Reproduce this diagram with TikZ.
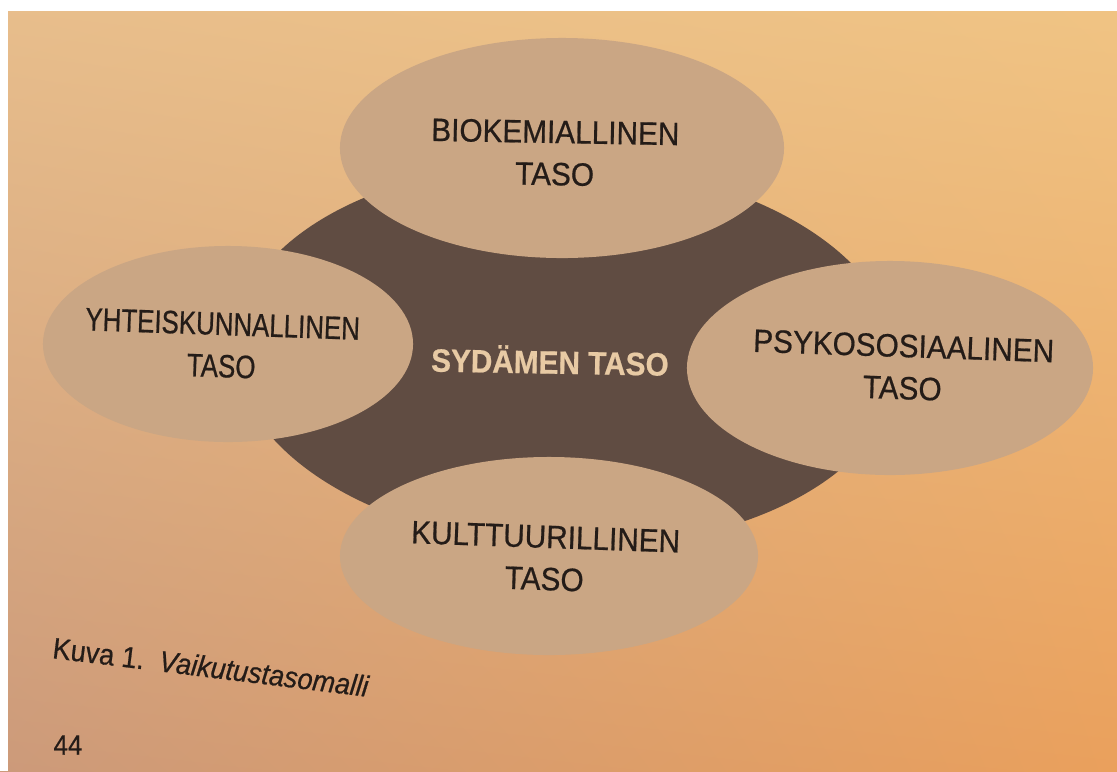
\documentclass[tikz,border=0pt]{standalone}
\usepackage{fontspec}
\setmainfont{Liberation Sans}[FakeStretch=0.92, FakeBold=0.6]
\newfontfamily\kapeafont{Liberation Sans}[FakeStretch=0.80, FakeBold=0.6]
\usepackage{tikz}
\usetikzlibrary{shapes, shadings, positioning}
\usepackage{xcolor}
\definecolor{pagetl}{RGB}{232,190,140}
\definecolor{pagetr}{RGB}{240,196,132}
\definecolor{pagebl}{RGB}{204,154,122}
\definecolor{pagebr}{RGB}{234,160,92}
\definecolor{tasofill}{RGB}{202,166,132}
\definecolor{sydanfill}{RGB}{96,76,66}
\definecolor{tasoink}{RGB}{36,28,24}
\definecolor{sydanink}{RGB}{232,202,164}

\begin{document}
\begin{tikzpicture}[x=0.025cm, y=-0.025cm,
  every node/.style={font=\fontsize{23}{30}\selectfont, text=tasoink},
  taso/.style={ellipse, fill=tasofill, inner sep=0pt},
  tasotext/.style={align=center, rotate=-2}]

% Page (photo of the book page)
\useasboundingbox (0,0) rectangle (1117,771);
\shade[upper left=pagetl, upper right=pagetr, lower left=pagebl,
       lower right=pagebr] (0,0) rectangle (1117,771);
\fill[white] (0,0) rectangle (1117,11);
\fill[white] (0,0) rectangle (8,771);

% Heart level in the middle
\node[ellipse, fill=sydanfill, inner sep=0pt, minimum width=16.6cm,
      minimum height=9.6cm, rotate=-2] (sydan) at (566,355) {};

% The four levels round it
\node[taso, minimum width=11.1cm, minimum height=5.5cm] (bio) at (562,148) {};
\node[taso, minimum width=9.25cm, minimum height=4.9cm] (yht) at (228,344) {};
\node[taso, minimum width=10.15cm, minimum height=5.35cm] (psy) at (890,368) {};
\node[taso, minimum width=10.45cm, minimum height=4.95cm] (kul) at (549,556) {};

\node[tasotext, rotate=1] (biotext) at (555,153) {BIOKEMIALLINEN\\TASO};
\node[tasotext, font=\kapeafont\fontsize{23}{30}\selectfont] (yhttext)
  at (222,345) {YHTEISKUNNALLINEN\\TASO};
\node[tasotext] (psytext) at (903,367) {PSYKOSOSIAALINEN\\TASO};
\node[tasotext] (kultext) at (545,558) {KULTTUURILLINEN\\TASO};
\node[text=sydanink, font=\fontsize{23}{30}\selectfont\bfseries,
      rotate=-1] (sydantext) at (550,360) {SYD\"AMEN TASO};

% Caption and page number
\node[font=\fontsize{21}{25}\selectfont, rotate=-7] (kuva) at (211,667)
  {Kuva 1.\ \ \textit{Vaikutustasomalli}};
\node[font=\fontsize{20}{24}\selectfont] (sivu) at (68,745) {44};

\end{tikzpicture}
\end{document}
